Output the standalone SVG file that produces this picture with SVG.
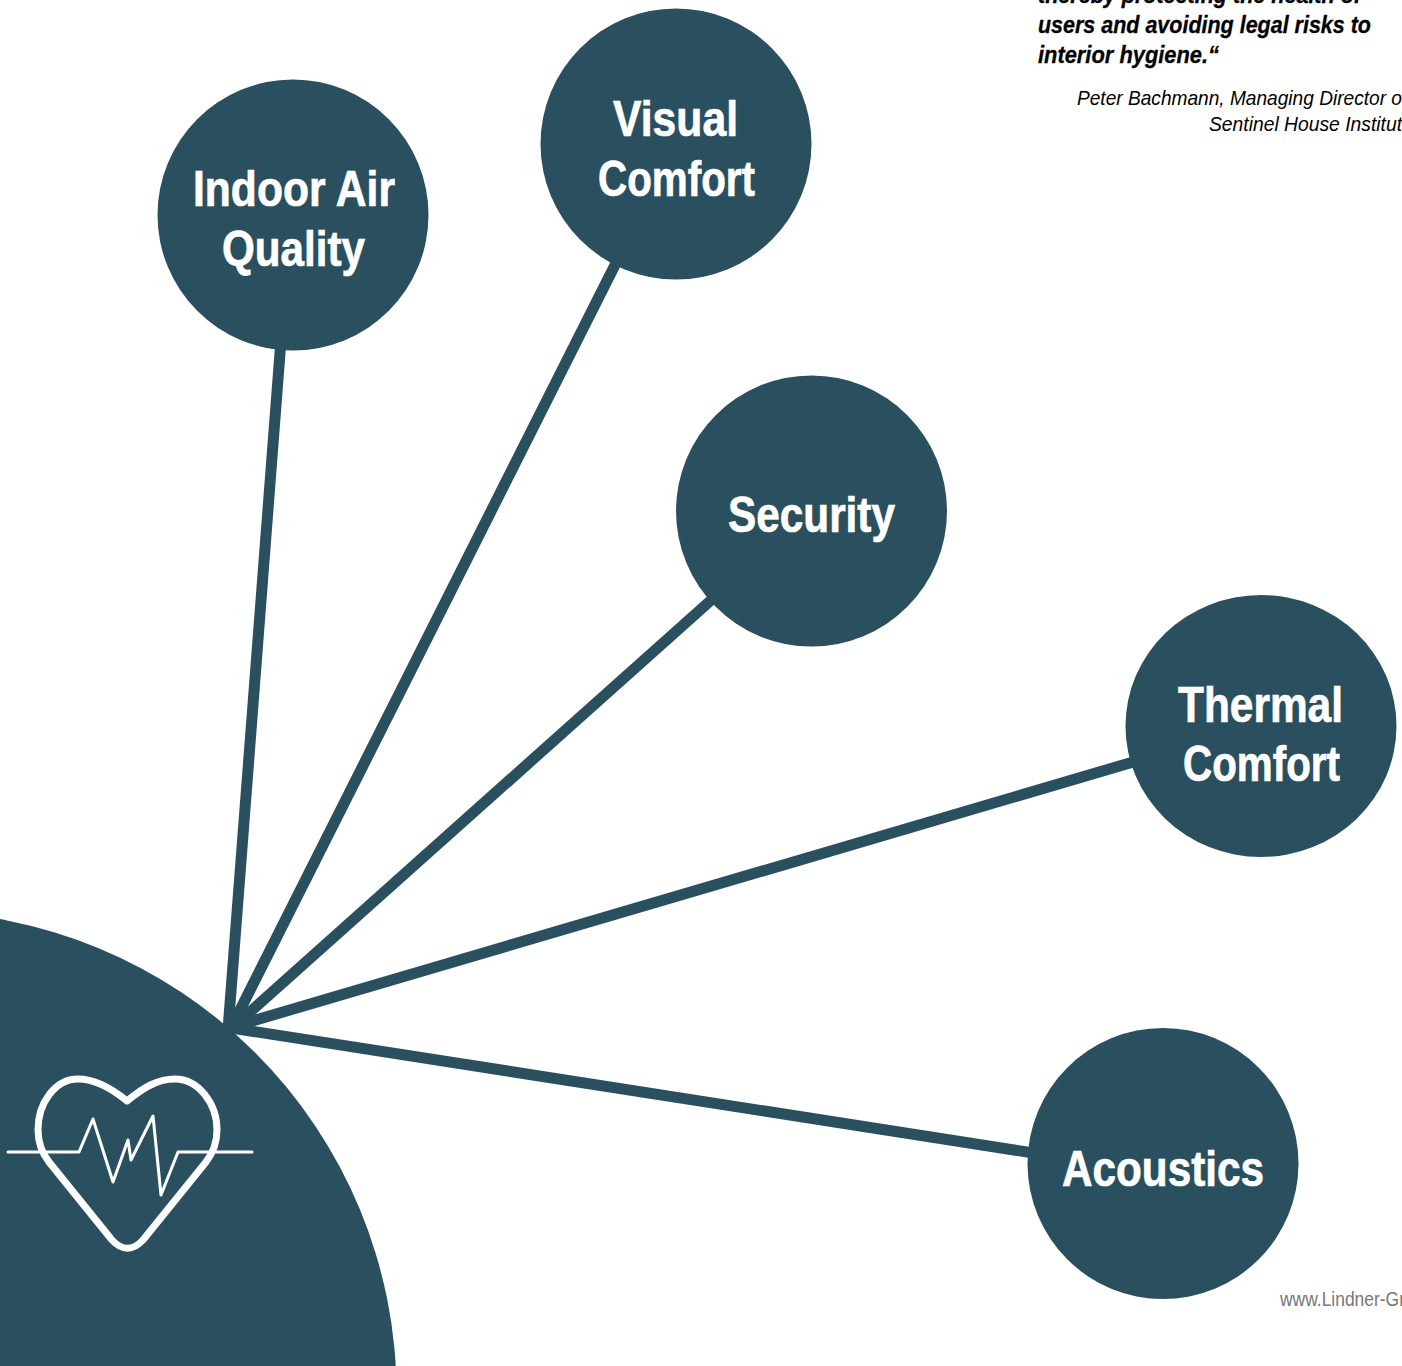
<svg xmlns="http://www.w3.org/2000/svg" width="1402" height="1366" viewBox="0 0 1402 1366">
<style>
text{font-family:"Liberation Sans Narrow","Liberation Sans",Arial,sans-serif}
.n{fill:#2a5060}
.l{font-size:50px;font-weight:700;fill:#fff;stroke:#fff;stroke-width:.7px}
.c line{stroke:#2a5060;stroke-width:11}
.q{font-size:24px;font-weight:700;font-style:italic;fill:#000;stroke:#000;stroke-width:.3px}
.a{font-size:21px;font-style:italic;fill:#000}
.w{font-size:20px;fill:#777}
</style>
<rect width="1402" height="1366" fill="#fff"/>
<g id="quote">
<text class="q" x="1038" y="3" textLength="323" lengthAdjust="spacingAndGlyphs">thereby protecting the health of</text>
<text class="q" x="1038" y="33" textLength="333" lengthAdjust="spacingAndGlyphs">users and avoiding legal risks to</text>
<text class="q" x="1038" y="63" textLength="181" lengthAdjust="spacingAndGlyphs">interior hygiene.“</text>
<text class="a" x="1077" y="105" textLength="325" lengthAdjust="spacingAndGlyphs">Peter Bachmann, Managing Director o</text>
<text class="a" x="1209" y="131" textLength="193" lengthAdjust="spacingAndGlyphs">Sentinel House Institut</text>
</g>
<g id="connectors" class="c">
<line x1="228" y1="1030" x2="281" y2="340"/>
<line x1="230" y1="1030" x2="620" y2="255"/>
<line x1="232" y1="1028" x2="718" y2="594"/>
<line x1="232" y1="1027" x2="1140" y2="760"/>
<line x1="225" y1="1027" x2="1040" y2="1154"/>
</g>
<g id="hub">
<circle class="n" cx="-86" cy="1394" r="482.6"/>
<g fill="none" stroke="#fff" stroke-linecap="round" stroke-linejoin="round">
<path stroke-width="7" d="M127 1101C110 1087 95 1079 78 1079C55 1079 38 1103 38 1130C38 1142 42 1153 49 1162L112 1240C122 1251 133 1251 143 1240L206 1162C213 1153 217 1142 217 1130C217 1103 198 1079 175 1079C158 1079 144 1087 127 1101Z"/>
<path stroke-width="3" d="M8 1152H79L93 1119L113 1182L128 1140L131 1160L153 1116L161 1195L178 1152H252"/>
</g>
</g>
<g id="node-indoor-air-quality">
<circle class="n" cx="293" cy="215" r="135.5"/>
<text class="l" x="193" y="206" textLength="202" lengthAdjust="spacingAndGlyphs">Indoor Air</text>
<text class="l" x="222" y="266" textLength="143" lengthAdjust="spacingAndGlyphs">Quality</text>
</g>
<g id="node-visual-comfort">
<circle class="n" cx="676" cy="144" r="135.5"/>
<text class="l" x="613" y="136" textLength="125" lengthAdjust="spacingAndGlyphs">Visual</text>
<text class="l" x="598" y="196" textLength="157" lengthAdjust="spacingAndGlyphs">Comfort</text>
</g>
<g id="node-security">
<circle class="n" cx="811.5" cy="511" r="135.5"/>
<text class="l" x="728" y="532" textLength="167" lengthAdjust="spacingAndGlyphs">Security</text>
</g>
<g id="node-thermal-comfort">
<ellipse class="n" cx="1261" cy="726" rx="135.5" ry="131"/>
<text class="l" x="1178" y="722" textLength="165" lengthAdjust="spacingAndGlyphs">Thermal</text>
<text class="l" x="1183" y="781" textLength="157" lengthAdjust="spacingAndGlyphs">Comfort</text>
</g>
<g id="node-acoustics">
<circle class="n" cx="1163" cy="1163.5" r="135.5"/>
<text class="l" x="1062" y="1186" textLength="202" lengthAdjust="spacingAndGlyphs">Acoustics</text>
</g>
<text class="w" x="1280" y="1306" textLength="125" lengthAdjust="spacingAndGlyphs">www.Lindner-Gr</text>
</svg>
